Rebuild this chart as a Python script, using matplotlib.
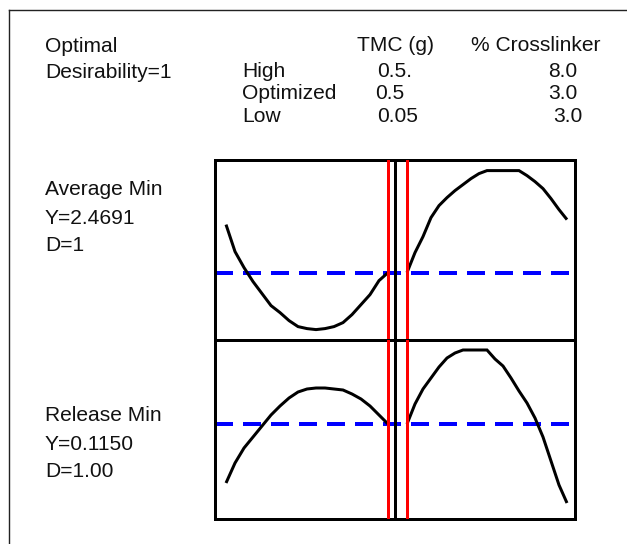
import matplotlib
matplotlib.use("Agg")
import matplotlib.pyplot as plt
from matplotlib.lines import Line2D

# ---------------- data ----------------
factor_names = ["TMC (g)", "% Crosslinker"]
setting_rows = ["High", "Optimized", "Low"]
tmc_settings = ["0.5.", "0.5", "0.05"]
crosslinker_settings = ["8.0", "3.0", "3.0"]

tmc_optimum = 0.5
crosslinker_optimum = 3.0

response_names = ["Average Min", "Release Min"]
response_values = [2.4691, 0.1150]
desirability_labels = ["D=1", "D=1.00"]
overall_desirability = "1"

# profile grid for each factor
tmc_grid = [0.050, 0.075, 0.100, 0.125, 0.150, 0.175, 0.200, 0.225, 0.250, 0.275,
            0.300, 0.325, 0.350, 0.375, 0.400, 0.425, 0.450, 0.475, 0.500]
crosslinker_grid = [3.00, 3.25, 3.50, 3.75, 4.00, 4.25, 4.50, 4.75, 5.00, 5.25, 5.50,
                    5.75, 6.00, 6.25, 6.50, 6.75, 7.00, 7.25, 7.50, 7.75, 8.00]

# Average Min profiles
average_vs_tmc = [2.95, 2.68, 2.52, 2.38, 2.26, 2.14, 2.07, 1.99, 1.93, 1.91,
                  1.90, 1.91, 1.93, 1.97, 2.05, 2.15, 2.25, 2.39, 2.47]
average_vs_crosslinker = [2.47, 2.67, 2.83, 3.02, 3.14, 3.22, 3.29, 3.35, 3.41, 3.46, 3.49,
                          3.49, 3.49, 3.49, 3.49, 3.44, 3.38, 3.31, 3.21, 3.10, 3.00]

# Release Min profiles
release_vs_tmc = [0.056, 0.076, 0.091, 0.102, 0.113, 0.124, 0.133, 0.141, 0.147, 0.150,
                  0.151, 0.151, 0.150, 0.149, 0.145, 0.140, 0.133, 0.124, 0.115]
release_vs_crosslinker = [0.115, 0.135, 0.150, 0.161, 0.172, 0.181, 0.186, 0.189, 0.189, 0.189, 0.189,
                          0.180, 0.173, 0.161, 0.148, 0.136, 0.121, 0.102, 0.078, 0.054, 0.036]

# axis ranges
tmc_limits = (0.0194, 0.5194)
crosslinker_limits = (2.625, 8.25)
average_limits = (1.796, 3.596)
release_limits = (0.020, 0.199)

# ---------------- figure ----------------
W, H = 627, 544
DPI = 100
plt.rcParams["font.family"] = ["Liberation Sans", "DejaVu Sans"]
fig = plt.figure(figsize=(W / DPI, H / DPI), dpi=DPI)
fig.patch.set_facecolor("white")

FS = 15.1
PX = 72.0 / DPI  # points per pixel


def fx(x):
    return x / W


def fy(y):
    return 1 - y / H


def put(x, y, s):
    fig.text(fx(x), fy(y), s, fontsize=FS, ha="left", va="baseline", color="#111111")


# outer frame (top and left edges)
fig.add_artist(Line2D([fx(8.5), fx(8.5)], [0, fy(10)], color="#222222", lw=1.4 * PX))
fig.add_artist(Line2D([fx(8.5), 1], [fy(10), fy(10)], color="#222222", lw=1.4 * PX))

# header table
put(45, 52, "Optimal")
put(45, 78, "Desirability=" + overall_desirability)
put(357, 51, factor_names[0])
put(471, 51, factor_names[1])
row_base = [77, 99, 122]
tmc_x = [377, 375, 377]
cross_x = [548, 548, 553]
for i, name in enumerate(setting_rows):
    put(242, row_base[i], name)
    put(tmc_x[i], row_base[i], tmc_settings[i])
    put(cross_x[i], row_base[i], crosslinker_settings[i])

# response labels
label_base = [(195, 224, 251), (421, 450, 477)]
for i, name in enumerate(response_names):
    b = label_base[i]
    put(45, b[0], name)
    put(45, b[1], "Y=%.4f" % response_values[i])
    put(45, b[2], desirability_labels[i])

# profiler panels
box_left, box_mid, box_right = 215, 395, 575
row_edges = [(160, 340), (340, 519)]
ylims = [average_limits, release_limits]
profiles = [(average_vs_tmc, average_vs_crosslinker),
            (release_vs_tmc, release_vs_crosslinker)]

for r in range(2):
    top, bot = row_edges[r]
    # row-wide target line
    ax_row = fig.add_axes([fx(box_left), fy(bot), fx(box_right - box_left), (bot - top) / H])
    ax_row.set_xlim(0, 1)
    ax_row.set_ylim(*ylims[r])
    ax_row.axis("off")
    ax_row.axhline(response_values[r], color="#0000ff", lw=4 * PX,
                   linestyle=(0, (4.5, 2.5)), dash_capstyle="butt")

    cols = [(box_left, box_mid, tmc_limits, tmc_grid, profiles[r][0], tmc_optimum),
            (box_mid, box_right, crosslinker_limits, crosslinker_grid, profiles[r][1], crosslinker_optimum)]
    for (x0, x1, xl, xs, ys, opt) in cols:
        ax = fig.add_axes([fx(x0), fy(bot), fx(x1 - x0), (bot - top) / H])
        ax.patch.set_alpha(0)
        ax.set_xlim(*xl)
        ax.set_ylim(*ylims[r])
        ax.set_xticks([])
        ax.set_yticks([])
        for sp in ax.spines.values():
            sp.set_linewidth(3 * PX)
            sp.set_color("black")
        ax.plot(xs, ys, color="black", lw=3 * PX, solid_capstyle="butt",
                solid_joinstyle="miter", zorder=2.2)
        ax.axvline(opt, color="#ff0000", lw=3 * PX, zorder=3)

fig.savefig("out.png", dpi=DPI, facecolor="white")
